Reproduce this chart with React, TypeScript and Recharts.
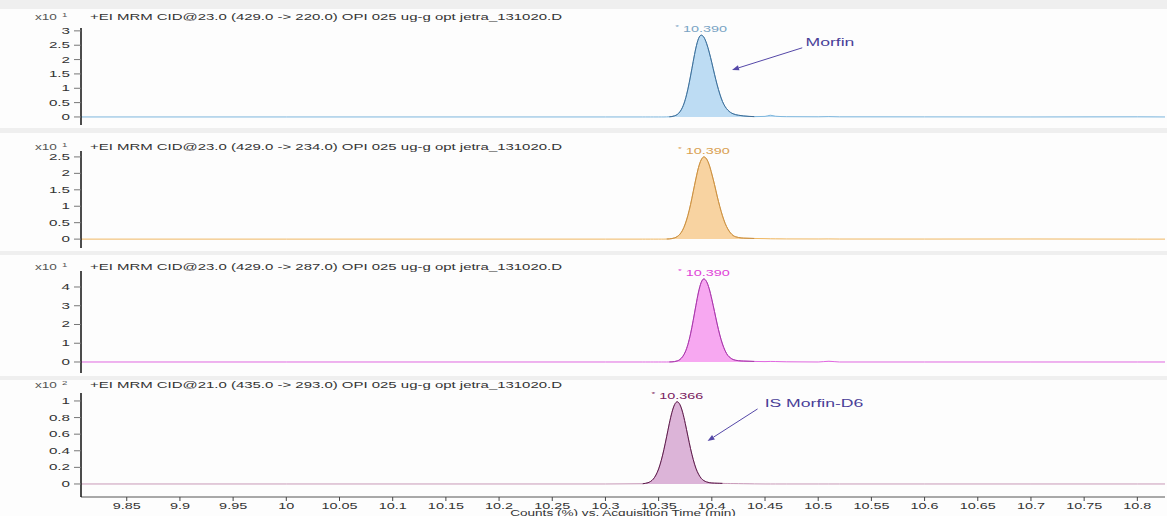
import React from 'react';
import { ComposedChart, Area, Line, XAxis, YAxis, ReferenceDot, ReferenceLine } from 'recharts';

// acquisition time (min), shared by all four traces
const time = [
  9.807, 10.0, 10.3, 10.335, 10.3375, 10.34, 10.3425, 10.345, 10.3475, 10.35, 10.3525, 10.355, 10.3575,
  10.36, 10.3625, 10.365, 10.3675, 10.37, 10.3725, 10.375, 10.3775, 10.38, 10.3825, 10.385, 10.3875,
  10.39, 10.3925, 10.395, 10.3975, 10.4, 10.4025, 10.405, 10.4075, 10.41, 10.4125, 10.415, 10.4175,
  10.42, 10.425, 10.43, 10.435, 10.44, 10.45, 10.455, 10.46, 10.47, 10.5, 10.51, 10.52, 10.6, 10.7, 10.8, 10.826,
];

// counts, x10^1 (429 -> 220)
const mrm220 = [
  0, 0, 0, 0, 0, 0, 0, 0, 0, 0, 0, 0, 0.003, 0.006, 0.015, 0.04, 0.085, 0.18, 0.34, 0.6, 0.97, 1.43, 1.93,
  2.4, 2.73, 2.85, 2.78, 2.57, 2.26, 1.89, 1.49, 1.12, 0.8, 0.54, 0.36, 0.24, 0.16, 0.11, 0.06, 0.035, 0.02,
  0.012, 0.02, 0.06, 0.025, 0.01, 0.005, 0.012, 0.004, 0.003, 0, 0.004, 0,
];
// counts, x10^1 (429 -> 234)
const mrm234 = [
  0, 0, 0, 0, 0, 0, 0, 0, 0, 0, 0, 0, 0.003, 0.007, 0.017, 0.038, 0.078, 0.15, 0.27, 0.46, 0.72, 1.05, 1.44,
  1.83, 2.18, 2.41, 2.5, 2.44, 2.26, 1.98, 1.66, 1.31, 0.99, 0.71, 0.48, 0.31, 0.19, 0.11, 0.05, 0.03, 0.025,
  0.02, 0.015, 0.01, 0.008, 0.006, 0.004, 0.006, 0.003, 0.002, 0.004, 0, 0,
];
// counts, x10^1 (429 -> 287)
const mrm287 = [
  0, 0, 0, 0, 0, 0, 0, 0, 0, 0, 0, 0, 0, 0.002, 0.008, 0.022, 0.058, 0.13, 0.28, 0.53, 0.93, 1.5, 2.22,
  3.0, 3.73, 4.24, 4.43, 4.29, 3.91, 3.34, 2.69, 2.03, 1.44, 0.96, 0.6, 0.35, 0.22, 0.13, 0.07, 0.05, 0.04,
  0.03, 0.02, 0.03, 0.025, 0.01, 0, 0.04, 0, 0, 0, 0, 0,
];
// counts, x10^2 (435 -> 293), internal standard
const mrm293 = [
  0, 0, 0, 0.003, 0.007, 0.015, 0.031, 0.059, 0.108, 0.181, 0.285, 0.417, 0.568, 0.725, 0.862, 0.956, 0.99,
  0.956, 0.865, 0.73, 0.575, 0.425, 0.295, 0.19, 0.118, 0.068, 0.04, 0.025, 0.016, 0.012, 0.01, 0.009,
  0.008, 0.007, 0.006, 0.006, 0.005, 0.005, 0.004, 0.003, 0.002, 0.001, 0, 0, 0, 0, 0, 0, 0, 0, 0, 0, 0,
];

const xTicks = [9.85, 9.9, 9.95, 10, 10.05, 10.1, 10.15, 10.2, 10.25, 10.3, 10.35, 10.4, 10.45, 10.5, 10.55, 10.6, 10.65, 10.7, 10.75, 10.8];
const ticks220 = [0, 0.5, 1, 1.5, 2, 2.5, 3];
const ticks234 = [0, 0.5, 1, 1.5, 2, 2.5];
const ticks287 = [0, 1, 2, 3, 4];
const ticks293 = [0, 0.2, 0.4, 0.6, 0.8, 1];

const titles = [
  '+EI MRM CID@23.0 (429.0 -> 220.0) OPI 025 ug-g opt jetra_131020.D',
  '+EI MRM CID@23.0 (429.0 -> 234.0) OPI 025 ug-g opt jetra_131020.D',
  '+EI MRM CID@23.0 (429.0 -> 287.0) OPI 025 ug-g opt jetra_131020.D',
  '+EI MRM CID@21.0 (435.0 -> 293.0) OPI 025 ug-g opt jetra_131020.D',
];

const rows = time.map((t, i) => ({ t, a: mrm220[i], b: mrm234[i], c: mrm287[i], d: mrm293[i] }));

const X_DOMAIN: [number, number] = [9.807, 10.826];
const SX = 1.6;
const FONT = "'Liberation Sans', Arial, sans-serif";
const PAD = 14; // room above each plot for the peak labels

const SText = ({ x, y, anchor = 'start', size = 8.5, fill = '#333', baseline = 'central', children }: any) => (
  <g transform={`translate(${x},${y}) scale(${SX},1)`}>
    <text x={0} y={0} textAnchor={anchor} dominantBaseline={baseline} fontSize={size} fontFamily={FONT} fill={fill}>
      {children}
    </text>
  </g>
);

const YTick = (props: any) => <SText x={props.x} y={props.y} anchor="end" size={9.5}>{String(props.payload.value)}</SText>;
const XTick = (props: any) => (
  <SText x={props.x} y={props.y} anchor="middle" baseline="hanging" size={9}>{String(props.payload.value)}</SText>
);

const Arrow = (props: any) => {
  const { x1, y1, x2, y2, stroke } = props;
  const ang = Math.atan2(y2 - y1, x2 - x1);
  const L = 7, W = 2.6;
  const bx = x2 - L * Math.cos(ang), by = y2 - L * Math.sin(ang);
  const px = -Math.sin(ang) * W, py = Math.cos(ang) * W;
  return (
    <g>
      <line x1={x1} y1={y1} x2={bx} y2={by} stroke={stroke} strokeWidth={1} />
      <polygon points={`${x2},${y2} ${bx + px},${by + py} ${bx - px},${by - py}`} fill={stroke} />
    </g>
  );
};

interface PanelProps {
  k: string;
  top: number;
  height: number;
  domain: [number, number];
  ticks: number[];
  line: string;
  fill: string;
  edge: string;
  labelColor: string;
  peak: { t: number; v: number; text: string };
  window: [number, number];
  note?: { text: string; at: [number, number]; from: [number, number]; to: [number, number] };
  showX?: boolean;
}

const Panel = ({ k, top, height, domain, ticks, line, fill, edge, labelColor, peak, window, note, showX }: PanelProps) => (
  <div style={{ position: 'absolute', left: 0, top: top - PAD }}>
    <ComposedChart
      width={1167}
      height={height + PAD + (showX ? 0 : 4)}
      data={rows}
      margin={{ top: PAD, right: 2, bottom: showX ? 0 : 4, left: 0 }}
    >
      <XAxis
        type="number"
        dataKey="t"
        domain={X_DOMAIN}
        allowDataOverflow
        hide={!showX}
        ticks={xTicks}
        interval={0}
        height={19}
        tick={XTick}
        tickSize={4}
        tickMargin={1}
        axisLine={{ stroke: '#555' }}
        tickLine={{ stroke: '#444' }}
      />
      <YAxis
        type="number"
        domain={domain}
        allowDataOverflow
        ticks={ticks}
        interval={0}
        width={81}
        tick={YTick}
        tickSize={7}
        tickMargin={4}
        axisLine={{ stroke: '#111', strokeWidth: 1.5 }}
        tickLine={{ stroke: '#777' }}
      />
      <Area
        type="monotone"
        dataKey={k}
        stroke={line}
        strokeWidth={1}
        fill={fill}
        fillOpacity={1}
        isAnimationActive={false}
        dot={false}
        activeDot={false}
      />
      <Line
        type="monotone"
        dataKey={(d: any) => (d.t >= window[0] && d.t <= window[1] ? d[k] : null)}
        stroke={edge}
        strokeWidth={1}
        dot={false}
        activeDot={false}
        isAnimationActive={false}
      />
      <ReferenceDot
        x={peak.t}
        y={peak.v}
        r={1}
        fill="none"
        stroke="none"
        label={(p: any) => (
          <SText x={p.viewBox.x + p.viewBox.width / 2} y={p.viewBox.y - 5} anchor="middle" size={9} fill={labelColor}>
            <tspan fontSize={6} dy={-2}>*</tspan>
            <tspan dy={2}> {peak.text}</tspan>
          </SText>
        )}
      />
      {note && (
        <ReferenceLine
          segment={[{ x: note.from[0], y: note.from[1] }, { x: note.to[0], y: note.to[1] }]}
          stroke="#5548a8"
          shape={Arrow}
        />
      )}
      {note && (
        <ReferenceDot
          x={note.at[0]}
          y={note.at[1]}
          r={1}
          fill="none"
          stroke="none"
          label={(p: any) => (
            <SText x={p.viewBox.x + p.viewBox.width / 2} y={p.viewBox.y + 1} anchor="middle" size={11} fill="#4a3f98">
              {note.text}
            </SText>
          )}
        />
      )}
    </ComposedChart>
  </div>
);

const titleY = [17, 147, 267, 385];
const mults = ['1', '1', '1', '2'];

export default function App() {
  return (
    <div style={{ position: 'absolute', left: 0, top: 0, width: 1167, height: 516, background: '#efefef', overflow: 'hidden' }}>
      <div style={{ position: 'absolute', left: 0, top: 9, width: 1167, height: 119, background: '#fdfdfd' }} />
      <div style={{ position: 'absolute', left: 0, top: 133, width: 1167, height: 118, background: '#fdfdfd' }} />
      <div style={{ position: 'absolute', left: 0, top: 255, width: 1167, height: 121, background: '#fdfdfd' }} />
      <div style={{ position: 'absolute', left: 0, top: 380, width: 1167, height: 136, background: '#fdfdfd' }} />

      <Panel
        k="a" top={28} height={97} domain={[-0.28, 3.1]} ticks={ticks220}
        line="#7db6dd" fill="#bddcf3" edge="#3f6d96" labelColor="#79a3c4"
        peak={{ t: 10.39, v: 2.85, text: '10.390' }} window={[10.36, 10.44]}
        note={{ text: 'Morfin', at: [10.511, 2.62], from: [10.485, 2.41], to: [10.419, 1.64] }}
      />
      <Panel
        k="b" top={151} height={97} domain={[-0.27, 2.68]} ticks={ticks234}
        line="#f0b863" fill="#f8d3a1" edge="#c88f45" labelColor="#d9a052"
        peak={{ t: 10.3925, v: 2.5, text: '10.390' }} window={[10.3575, 10.44]}
      />
      <Panel
        k="c" top={271} height={102} domain={[-0.587, 4.853]} ticks={ticks287}
        line="#e068e0" fill="#f7a8f1" edge="#a43aa6" labelColor="#e044d8"
        peak={{ t: 10.3925, v: 4.43, text: '10.390' }} window={[10.36, 10.44]}
      />
      <Panel
        k="d" top={393} height={123} domain={[-0.157, 1.096]} ticks={ticks293}
        line="#c89ab8" fill="#dcb4d8" edge="#5c1c4c" labelColor="#7a2060"
        peak={{ t: 10.3675, v: 0.99, text: '10.366' }} window={[10.335, 10.41]}
        note={{ text: 'IS Morfin-D6', at: [10.496, 0.976], from: [10.443, 0.904], to: [10.396, 0.518] }}
        showX
      />

      <svg width={1167} height={516} style={{ position: 'absolute', left: 0, top: 0, pointerEvents: 'none' }}>
        {titles.map((t, i) => (
          <g key={t}>
            <SText x={35} y={titleY[i]} fill="#555">x10</SText>
            <SText x={62} y={titleY[i] - 2} size={6} fill="#555">{mults[i]}</SText>
            <text
              x={90}
              y={titleY[i]}
              dominantBaseline="central"
              fontSize={8.5}
              fontFamily={FONT}
              fill="#333"
              textLength={472}
              lengthAdjust="spacingAndGlyphs"
            >
              {t}
            </text>
          </g>
        ))}
        <SText x={623} y={513} anchor="middle" size={8.5} fill="#333">Counts (%) vs. Acquisition Time (min)</SText>
      </svg>
    </div>
  );
}
